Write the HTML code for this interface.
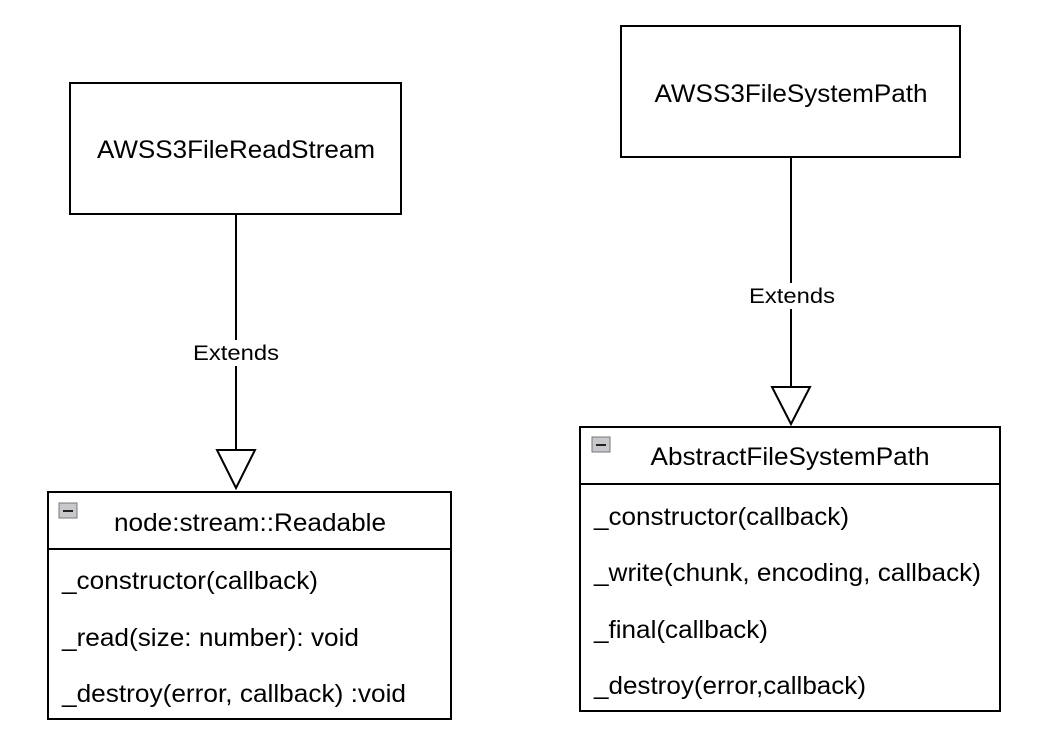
<!DOCTYPE html>
<html><head><meta charset="utf-8"><style>html,body{margin:0;padding:0;background:#fff}</style></head>
<body>
<svg width="1046" height="735" viewBox="0 0 1046 735" xmlns="http://www.w3.org/2000/svg" font-family="Liberation Sans, sans-serif" fill="#000">
<rect width="1046" height="735" fill="#fff"/>
<g stroke="#000" stroke-width="2" fill="none">
<rect x="70" y="83" width="331" height="131" fill="#fff"/>
<rect x="621" y="26" width="339" height="131" fill="#fff"/>
<line x1="236" y1="214" x2="236" y2="450"/>
<polygon points="217,450 255,450 236,488" fill="#fff"/>
<line x1="791" y1="157" x2="791" y2="387"/>
<polygon points="772,387 810,387 791,424" fill="#fff"/>
<rect x="48" y="492" width="403" height="227" fill="#fff"/>
<line x1="48" y1="549" x2="451" y2="549"/>
<rect x="580" y="427" width="420" height="284" fill="#fff"/>
<line x1="580" y1="484" x2="1000" y2="484"/>
</g>
<rect x="59" y="503" width="18" height="15" fill="#c8c8cc" stroke="#777" stroke-width="1"/>
<line x1="63" y1="511" x2="73" y2="511" stroke="#222" stroke-width="2"/>
<rect x="592" y="437" width="18" height="15" fill="#c8c8cc" stroke="#777" stroke-width="1"/>
<line x1="596" y1="445" x2="606" y2="445" stroke="#222" stroke-width="2"/>
<rect x="190" y="340" width="92" height="26" fill="#fff"/>
<rect x="745" y="283" width="92" height="26" fill="#fff"/>
<g font-size="21" text-anchor="middle" lengthAdjust="spacingAndGlyphs">
<text x="236" y="360" textLength="86" lengthAdjust="spacingAndGlyphs">Extends</text>
<text x="792" y="303" textLength="86" lengthAdjust="spacingAndGlyphs">Extends</text>
</g>
<g font-size="25" text-anchor="middle">
<text x="236" y="158" textLength="278" lengthAdjust="spacingAndGlyphs">AWSS3FileReadStream</text>
<text x="791" y="102" textLength="273" lengthAdjust="spacingAndGlyphs">AWSS3FileSystemPath</text>
<text x="250" y="531" textLength="272" lengthAdjust="spacingAndGlyphs">node:stream::Readable</text>
<text x="790" y="465" textLength="279" lengthAdjust="spacingAndGlyphs">AbstractFileSystemPath</text>
</g>
<g font-size="25">
<text x="62" y="589" textLength="256" lengthAdjust="spacingAndGlyphs">_constructor(callback)</text>
<text x="62" y="646" textLength="297" lengthAdjust="spacingAndGlyphs">_read(size: number): void</text>
<text x="62" y="702" textLength="344" lengthAdjust="spacingAndGlyphs">_destroy(error, callback) :void</text>
<text x="594" y="525" textLength="255" lengthAdjust="spacingAndGlyphs">_constructor(callback)</text>
<text x="594" y="581" textLength="387" lengthAdjust="spacingAndGlyphs">_write(chunk, encoding, callback)</text>
<text x="594" y="638" textLength="174" lengthAdjust="spacingAndGlyphs">_final(callback)</text>
<text x="594" y="694" textLength="272" lengthAdjust="spacingAndGlyphs">_destroy(error,callback)</text>
</g>
</svg>
</body></html>
